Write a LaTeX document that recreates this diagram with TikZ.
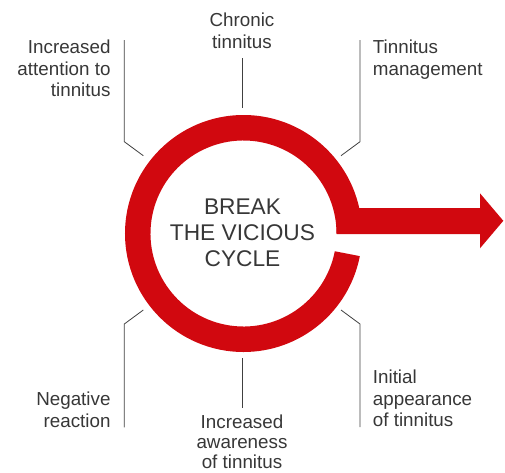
\documentclass[tikz,border=0pt]{standalone}
\usepackage{fontspec}
\setmainfont{Liberation Sans}
\definecolor{ringred}{RGB}{209,8,15}
\definecolor{txtgray}{RGB}{55,55,55}
\tikzset{
  lbl/.style={font=\fontsize{18.8}{21.5}\selectfont, text=txtgray, inner sep=0pt},
  leader/.style={draw=black!75, line width=0.8pt},
}
\begin{document}
\begin{tikzpicture}[x=1pt,y=1pt]
\useasboundingbox (-243.5,-238.5) rectangle (261.5,233.5);
% ring and arrow
\fill[ringred] (0:118.5) arc (0:349:118.5) -- (349:93) arc (349:0:93) -- cycle;
\fill[ringred] (93,-0.5) -- (236.5,-0.5) -- (236.5,-14.8) -- (259.8,12.7) -- (236.5,40.2) -- (236.5,25.5) -- (93,25.5) -- cycle;
\node[font=\fontsize{22.7}{26}\selectfont, text=txtgray, align=center, inner sep=0pt] (brk) at (-1,0.7) {BREAK\\THE VICIOUS\\CYCLE};
% labels
\node[lbl, align=right, anchor=north east] (attn) at (-132.8,193.5) {Increased\\attention to\\tinnitus};
\node[lbl, align=center, anchor=north] (chron) at (-1.5,220.5) {Chronic\\tinnitus};
\node[lbl, align=left, anchor=north west] (mgmt) at (129.2,193.5) {Tinnitus\\management};
\node[lbl, align=right, anchor=north east] (neg) at (-132.8,-158.2) {Negative\\reaction};
\node[lbl, font=\fontsize{18.8}{19.6}\selectfont, align=center, anchor=north] (aware) at (-1.5,-181.5) {Increased\\awareness\\of tinnitus};
\node[lbl, align=left, anchor=north west] (init) at (129.2,-136.5) {Initial\\appearance\\of tinnitus};
% leaders
\coordinate (tlr) at (-100.2,77.8);
\coordinate (tlk) at (-119.2,91.8);
\coordinate (tcr) at (-1.2,125.8);
\coordinate (trr) at (97.5,77.8);
\coordinate (trk) at (116.5,91.8);
\coordinate (blr) at (-100.2,-76.5);
\coordinate (blk) at (-119.2,-90.5);
\coordinate (bcr) at (-1.2,-124.8);
\coordinate (brr) at (97.5,-76.5);
\coordinate (brk) at (116.5,-90.5);
\draw[leader] (tlr)--(tlk)--(tlk |- attn.north east);
\draw[leader] (tcr)--([yshift=-9]tcr |- chron.south);
\draw[leader] (trr)--(trk)--(trk |- mgmt.north west);
\draw[leader] (blr)--(blk)--(blk |- neg.south east);
\draw[leader] (bcr)--([yshift=7.3]bcr |- aware.north);
\draw[leader] (brr)--(brk)--(brk |- init.south west);
\end{tikzpicture}
\end{document}
